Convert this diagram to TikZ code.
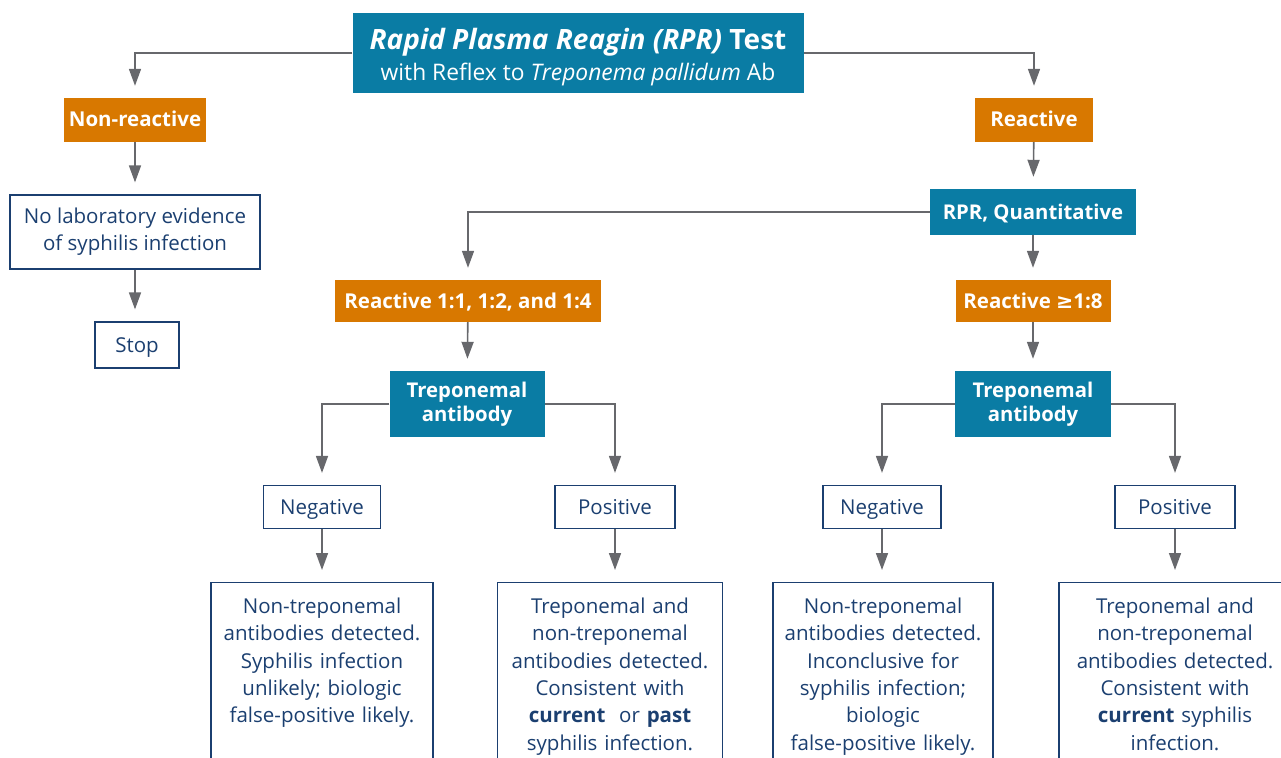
\documentclass[tikz,border=0pt]{standalone}
\usepackage{fontspec}
\setmainfont{Open Sans}
\newfontfamily\symfont{DejaVu Sans}
\usetikzlibrary{positioning}
\usetikzlibrary{arrows.meta}
\definecolor{rprteal}{HTML}{0A7CA4}
\definecolor{rprorange}{HTML}{D87800}
\definecolor{rprblue}{HTML}{1B3F70}
\definecolor{rprgray}{HTML}{67686C}

\begin{document}
\begin{tikzpicture}[x=1pt,y=-1pt,
		tealbox/.style={fill=rprteal, text=white, font=\bfseries\fontsize{20.3}{24.5}\selectfont, inner sep=0pt, align=center},
		orangebox/.style={fill=rprorange, text=white, font=\bfseries\fontsize{20.5}{24}\selectfont, inner sep=0pt, oneline},
		smallbox/.style={draw=rprblue, line width=1.2pt, text=rprblue, font=\fontsize{20.5}{27}\selectfont, inner sep=0pt, align=center},
		oneline/.style={text height=15pt, text depth=1pt},
		resultbox/.style={draw=rprblue, line width=1.2pt, text=rprblue, font=\fontsize{20.5}{27.3}\selectfont, inner xsep=0pt, inner ysep=0pt, align=center, anchor=north, text height=31pt, text depth=200pt},
		flow/.style={draw=rprgray, line width=1.6pt, -{Triangle[width=12pt,length=17pt]}, shorten >=12pt}]
				\useasboundingbox (0,0) rectangle (1281,757);
				\clip (0,0) rectangle (1281,757);
				
				% draw top box
				\node[tealbox, minimum width=451pt, minimum height=80pt] (test) at (578,53)
					{\rule{0pt}{29pt}{\fontsize{28}{31}\selectfont\textit{Rapid Plasma Reagin (RPR)} Test}\\[7pt]
					{\mdseries\fontsize{22.8}{26}\selectfont with Reflex to \textit{Treponema pallidum} Ab}};
				
				% draw non-reactive branch
				\node[orangebox, minimum width=142pt, minimum height=44pt] (nonreac) at (135,120) {Non-reactive};
				\node[smallbox, minimum width=250pt, minimum height=74pt] (noevid) at (135,232) {No laboratory evidence\\of syphilis infection};
				\node[smallbox, oneline, minimum width=84pt, minimum height=46pt] (stop) at (137,345) {Stop};
				
				% draw reactive branch
				\node[orangebox, minimum width=118pt, minimum height=44pt] (reac) at (1034,120) {Reactive};
				\node[tealbox, oneline, minimum width=206pt, minimum height=46pt] (quant) at (1033,212) {RPR, Quantitative};
				\node[orangebox, minimum width=266pt, minimum height=42pt] (lowtiter) at (468,301) {Reactive 1:1, 1:2, and 1:4};
				\node[orangebox, minimum width=155pt, minimum height=42pt] (hightiter) at (1033,301) {Reactive {\symfont ≥}1:8};
				
				% draw treponemal tests
				\node[tealbox, minimum width=155pt, minimum height=66pt] (treplow) at (467,404) {Treponemal\\antibody};
				\node[tealbox, minimum width=156pt, minimum height=66pt] (trephigh) at (1033,404) {Treponemal\\antibody};
				
				% draw negative / positive
				\node[smallbox, oneline, minimum width=117pt, minimum height=43pt] (neglow) at (322,507) {Negative};
				\node[smallbox, oneline, minimum width=120pt, minimum height=43pt] (poslow) at (615,507) {Positive};
				\node[smallbox, oneline, minimum width=118pt, minimum height=43pt] (neghigh) at (882,507) {Negative};
				\node[smallbox, oneline, minimum width=120pt, minimum height=43pt] (poshigh) at (1175,507) {Positive};
				
				% draw results
				\node[resultbox, text width=222pt] (resneglow) at (322,582)
					{Non-treponemal\\antibodies detected.\\Syphilis infection\\unlikely; biologic\\false-positive likely.};
				\node[resultbox, text width=225pt] (resposlow) at (610,582)
					{Treponemal and\\non-treponemal\\antibodies detected.\\Consistent with\\\textbf{current}\ \ or \textbf{past}\\syphilis infection.};
				\node[resultbox, text width=220pt] (resneghigh) at (883,582)
					{Non-treponemal\\antibodies detected.\\Inconclusive for\\syphilis infection;\\biologic\\false-positive likely.};
				\node[resultbox, text width=232pt] (resposhigh) at (1175,582)
					{Treponemal and\\non-treponemal\\antibodies detected.\\Consistent with\\\textbf{current} syphilis\\infection.};
				
				% draw connectors
				\draw[flow] (test.west) -| (nonreac.north);
				\draw[flow] (test.east) -| (reac.north);
				\draw[flow] (nonreac.south) -- (nonreac |- noevid.north);
				\draw[flow] (noevid.south) -- (noevid |- stop.north);
				\draw[flow] (reac) -- (quant);
				\draw[flow] (quant.west) -| (lowtiter.north);
				\draw[flow] (quant) -- (hightiter);
				\draw[flow] (lowtiter) -- (treplow);
				\draw[flow] (hightiter) -- (trephigh);
				\draw[flow] (treplow.west) -| (neglow.north);
				\draw[flow] (treplow.east) -| (poslow.north);
				\draw[flow] (trephigh.west) -| (neghigh.north);
				\draw[flow] (trephigh.east) -| (poshigh.north);
				\draw[flow] (neglow.south) -- (neglow |- resneglow.north);
				\draw[flow] (poslow.south) -- (poslow |- resposlow.north);
				\draw[flow] (neghigh.south) -- (neghigh |- resneghigh.north);
				\draw[flow] (poshigh.south) -- (poshigh |- resposhigh.north);
			\end{tikzpicture}
\end{document}
